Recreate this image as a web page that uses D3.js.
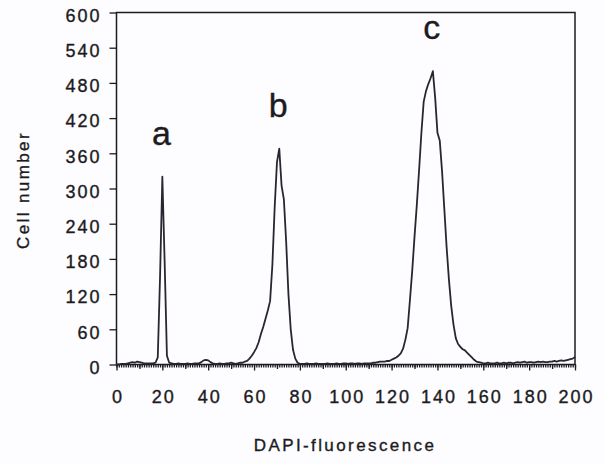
<!DOCTYPE html>
<html>
<head>
<meta charset="utf-8">
<script src="https://cdn.jsdelivr.net/npm/d3@7"></script>
<style>
  body { margin: 0; background: #fdfcff; }
  svg { display: block; font-family: 'Liberation Sans', Arial, sans-serif; }
  svg text { stroke: #1c1b20; stroke-width: 0.35px; }
  .axis text { font-size: 18px; letter-spacing: 2px; fill: #1c1b20; }
  .axis line { stroke: #1c1b20; stroke-width: 1.3; }
  .axis path { display: none; }
</style>
</head>
<body>
<script>
// DAPI fluorescence channels 0..200, cell counts per channel
var counts = [
  0, 0, 1, 1, 1, 2, 3, 4, 3, 5,
  4, 3, 2, 2, 2, 2, 2, 3, 12, 150,
  320, 175, 15, 3, 2, 1, 1, 2, 1, 1,
  1, 2, 1, 1, 2, 2, 2, 4, 7, 8,
  7, 4, 2, 1, 1, 2, 1, 1, 2, 2,
  3, 2, 1, 2, 3, 3, 5, 6, 10, 15,
  21, 28, 38, 52, 64, 78, 92, 108, 170, 268,
  345, 368, 305, 282, 210, 120, 60, 25, 10, 3,
  1, 1, 1, 2, 1, 1, 1, 2, 1, 1,
  1, 1, 2, 1, 1, 1, 2, 1, 1, 2,
  2, 1, 2, 2, 1, 2, 2, 1, 2, 2,
  2, 2, 3, 3, 4, 5, 5, 5, 6, 6,
  8, 10, 12, 15, 19, 27, 42, 62, 110, 160,
  218, 272, 332, 395, 448, 466, 478, 488, 500, 455,
  395, 382, 330, 265, 200, 145, 100, 68, 45, 35,
  30, 26, 24, 20, 16, 12, 8, 5, 4, 3,
  2, 2, 3, 2, 2, 2, 3, 2, 2, 3,
  2, 3, 3, 2, 3, 4, 3, 4, 5, 3,
  4, 4, 3, 4, 5, 4, 5, 4, 4, 5,
  5, 6, 5, 6, 7, 6, 7, 8, 9, 10,
  13
];
var xTicks = [0, 20, 40, 60, 80, 100, 120, 140, 160, 180, 200];
var yTicks = [0, 60, 120, 180, 240, 300, 360, 420, 480, 540, 600];
var peakLabels = [
  {name: 'a', channel: 20, count: 320},
  {name: 'b', channel: 71, count: 368},
  {name: 'c', channel: 138, count: 500}
];

var width = 605, height = 464,
    margins = {top: 12.5, right: 30, bottom: 99.5, left: 116.5};

var svg = d3.select('body').append('svg')
  .attr('width', width)
  .attr('height', height);

var x = d3.scaleLinear()
  .domain([0, 200])
  .range([margins.left, width - margins.right]);

var y = d3.scaleLinear()
  .domain([0, 600])
  .range([height - margins.bottom, margins.top]);

// minor ticks every channel
svg.append('g')
  .attr('class', 'axis')
  .attr('transform', 'translate(0,' + y(0) + ')')
  .call(d3.axisBottom(x).tickValues(d3.range(0, 201, 1)).tickSize(3).tickFormat(''))
  .selectAll('line').attr('stroke-width', 0.9);

svg.append('g')
  .attr('class', 'axis')
  .attr('transform', 'translate(0,' + y(0) + ')')
  .call(d3.axisBottom(x).tickValues(d3.range(10, 200, 20)).tickSize(4.5).tickFormat(''));

svg.append('g')
  .attr('class', 'axis')
  .attr('transform', 'translate(0,' + y(0) + ')')
  .call(d3.axisBottom(x).tickValues(xTicks).tickSize(6).tickPadding(19.5).tickFormat(d3.format('d')))
  .selectAll('text').attr('dx', '1px');

svg.append('g')
  .attr('class', 'axis')
  .attr('transform', 'translate(' + x(0) + ',0)')
  .call(d3.axisLeft(y).tickValues(yTicks).tickSize(7).tickPadding(8))
  .selectAll('text').attr('dy', '0.49em');

// frame
svg.append('rect')
  .attr('x', x(0))
  .attr('y', y(600))
  .attr('width', x(200) - x(0))
  .attr('height', y(0) - y(600))
  .attr('fill', 'none')
  .attr('stroke', '#1c1b20')
  .attr('stroke-width', 1.5);

var line = d3.line()
  .x(function(d, i) { return x(i); })
  .y(function(d) { return y(d); });

svg.append('path')
  .datum(counts)
  .attr('d', line)
  .attr('fill', 'none')
  .attr('stroke', '#2a2631')
  .attr('stroke-width', 1.8)
  .attr('stroke-linejoin', 'round');

svg.selectAll('.peak')
  .data(peakLabels)
  .enter()
  .append('text')
  .attr('class', 'peak')
  .attr('x', function(d) { return x(d.channel) - 1; })
  .attr('y', function(d) { return y(d.count) - 32; })
  .attr('text-anchor', 'middle')
  .style('font-size', '34px')
  .style('fill', '#1c1b20')
  .text(function(d) { return d.name; });

svg.append('text')
  .attr('x', 345)
  .attr('y', 451)
  .attr('text-anchor', 'middle')
  .style('font-size', '17px')
  .style('letter-spacing', '2.4px')
  .style('fill', '#1c1b20')
  .text('DAPI-fluorescence');

svg.append('text')
  .attr('transform', 'translate(29,190) rotate(-90)')
  .attr('text-anchor', 'middle')
  .style('font-size', '17px')
  .style('letter-spacing', '2.4px')
  .style('fill', '#1c1b20')
  .text('Cell number');
</script>
</body>
</html>
